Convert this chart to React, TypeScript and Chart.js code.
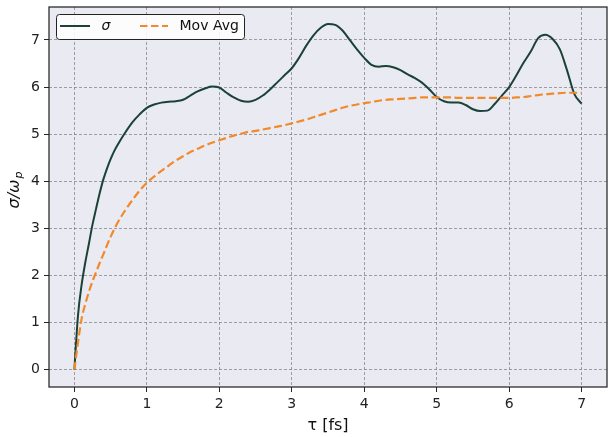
import React, { useEffect, useRef } from 'react';
import { Chart, registerables } from 'chart.js';
Chart.register(...registerables);

const tau = [0, 0.05, 0.1, 0.15, 0.2, 0.25, 0.3, 0.35, 0.4, 0.45, 0.5, 0.55, 0.6, 0.7, 0.8, 0.9, 1.0, 1.1, 1.2, 1.3, 1.4, 1.5, 1.6, 1.7, 1.8, 1.9, 2.0, 2.1, 2.2, 2.3, 2.4, 2.5, 2.6, 2.7, 2.8, 2.9, 3.0, 3.1, 3.2, 3.3, 3.4, 3.5, 3.6, 3.7, 3.8, 3.9, 4.0, 4.1, 4.2, 4.3, 4.4, 4.5, 4.6, 4.7, 4.8, 4.9, 5.0, 5.1, 5.2, 5.3, 5.4, 5.5, 5.6, 5.7, 5.8, 5.9, 6.0, 6.1, 6.2, 6.3, 6.4, 6.5, 6.6, 6.7, 6.8, 6.9, 7.0];

const sigma = [0, 1.15, 1.8, 2.27, 2.67, 3.08, 3.42, 3.75, 4.04, 4.27, 4.47, 4.64, 4.78, 5.03, 5.25, 5.42, 5.56, 5.63, 5.67, 5.69, 5.70, 5.73, 5.82, 5.91, 5.97, 6.01, 5.99, 5.88, 5.78, 5.71, 5.69, 5.73, 5.82, 5.95, 6.10, 6.25, 6.40, 6.62, 6.88, 7.10, 7.26, 7.34, 7.32, 7.20, 7.00, 6.80, 6.62, 6.47, 6.43, 6.45, 6.42, 6.36, 6.27, 6.19, 6.09, 5.95, 5.79, 5.70, 5.67, 5.67, 5.62, 5.53, 5.49, 5.50, 5.64, 5.82, 6.00, 6.25, 6.52, 6.76, 7.04, 7.11, 7.02, 6.80, 6.35, 5.85, 5.65];

const movAvg = [0, 0.58, 1.08, 1.39, 1.65, 1.88, 2.07, 2.27, 2.45, 2.64, 2.82, 2.98, 3.13, 3.38, 3.6, 3.8, 3.97, 4.1, 4.22, 4.33, 4.44, 4.53, 4.62, 4.69, 4.76, 4.82, 4.87, 4.92, 4.97, 5.01, 5.05, 5.07, 5.10, 5.13, 5.16, 5.19, 5.23, 5.27, 5.31, 5.36, 5.41, 5.46, 5.51, 5.56, 5.60, 5.63, 5.66, 5.68, 5.71, 5.73, 5.74, 5.75, 5.76, 5.77, 5.78, 5.78, 5.78, 5.78, 5.78, 5.77, 5.77, 5.77, 5.77, 5.77, 5.77, 5.77, 5.77, 5.78, 5.79, 5.81, 5.83, 5.85, 5.86, 5.87, 5.88, 5.88, 5.88];

const xTicks = [0, 1, 2, 3, 4, 5, 6, 7];
const yTicks = [0, 1, 2, 3, 4, 5, 6, 7];

const SIGMA_COLOR = '#1a4237';
const AVG_COLOR = '#f28a2c';
const FONT = '"DejaVu Sans", sans-serif';

const framePlugin = {
  id: 'mplFrame',
  beforeDraw(chart: any) {
    const { ctx, chartArea: a } = chart;
    ctx.save();
    ctx.fillStyle = '#ffffff';
    ctx.fillRect(0, 0, chart.width, chart.height);
    ctx.fillStyle = '#eaeaf2';
    ctx.fillRect(a.left, a.top, a.right - a.left, a.bottom - a.top);
    ctx.restore();
  },
  afterDraw(chart: any) {
    const { ctx, chartArea: a } = chart;
    ctx.save();
    ctx.strokeStyle = '#262626';
    ctx.lineWidth = 1.25;
    ctx.strokeRect(a.left, a.top, a.right - a.left, a.bottom - a.top);

    ctx.fillStyle = '#111';
    ctx.font = `16px ${FONT}`;
    ctx.textAlign = 'center';
    ctx.textBaseline = 'alphabetic';
    ctx.fillText('τ [fs]', (a.left + a.right) / 2, 430);

    ctx.save();
    ctx.translate(19, 190);
    ctx.rotate(-Math.PI / 2);
    const mainFont = `italic 16px ${FONT}`;
    const subFont = `italic 11px ${FONT}`;
    ctx.font = mainFont;
    const w1 = ctx.measureText('σ/ω').width;
    ctx.font = subFont;
    const w2 = ctx.measureText('p').width;
    const total = w1 + w2 + 1;
    ctx.textAlign = 'left';
    ctx.font = mainFont;
    ctx.fillText('σ/ω', -total / 2, 0);
    ctx.font = subFont;
    ctx.fillText('p', -total / 2 + w1 + 1, 3);
    ctx.restore();

    const lx = 56.5, ly = 14.5, lw = 188, lh = 25, r = 3;
    ctx.beginPath();
    ctx.moveTo(lx + r, ly);
    ctx.lineTo(lx + lw - r, ly);
    ctx.arcTo(lx + lw, ly, lx + lw, ly + r, r);
    ctx.lineTo(lx + lw, ly + lh - r);
    ctx.arcTo(lx + lw, ly + lh, lx + lw - r, ly + lh, r);
    ctx.lineTo(lx + r, ly + lh);
    ctx.arcTo(lx, ly + lh, lx, ly + lh - r, r);
    ctx.lineTo(lx, ly + r);
    ctx.arcTo(lx, ly, lx + r, ly, r);
    ctx.closePath();
    ctx.fillStyle = 'rgba(255,255,255,0.85)';
    ctx.fill();
    ctx.strokeStyle = '#222';
    ctx.lineWidth = 1;
    ctx.stroke();

    const cy = 26;
    ctx.lineWidth = 2;
    ctx.strokeStyle = SIGMA_COLOR;
    ctx.setLineDash([]);
    ctx.beginPath();
    ctx.moveTo(60, cy);
    ctx.lineTo(90, cy);
    ctx.stroke();

    ctx.lineWidth = 2.2;
    ctx.strokeStyle = AVG_COLOR;
    ctx.setLineDash([7.5, 3.5]);
    ctx.beginPath();
    ctx.moveTo(140, cy);
    ctx.lineTo(168, cy);
    ctx.stroke();
    ctx.setLineDash([]);

    ctx.fillStyle = '#111';
    ctx.textAlign = 'left';
    ctx.textBaseline = 'middle';
    ctx.font = `italic 14px ${FONT}`;
    ctx.fillText('σ', 101.5, cy);
    ctx.font = `14px ${FONT}`;
    ctx.fillText('Mov Avg', 179.5, cy);
    ctx.restore();
  },
};

export default function App() {
  const ref = useRef<HTMLCanvasElement | null>(null);

  useEffect(() => {
    document.body.style.margin = '0';
    const canvas = ref.current!;
    const sigmaData = tau.map((t, i) => ({ x: t, y: sigma[i] }));
    const avgData = tau.map((t, i) => ({ x: t, y: movAvg[i] }));

    const tickCommon = {
      color: '#222',
      font: { family: FONT, size: 14 },
      padding: 4,
    };
    const gridCommon = {
      color: 'rgba(120,120,120,0.85)',
      lineWidth: 0.8,
      drawTicks: true,
      tickLength: 5,
      tickColor: '#262626',
      tickWidth: 1,
      tickBorderDash: [],
    };

    const chart = new Chart(canvas, {
      type: 'line',
      data: {
        datasets: [
          {
            label: 'σ',
            data: sigmaData,
            borderColor: SIGMA_COLOR,
            borderWidth: 2,
            pointRadius: 0,
            cubicInterpolationMode: 'monotone',
            fill: false,
            order: 1,
          },
          {
            label: 'Mov Avg',
            data: avgData,
            borderColor: AVG_COLOR,
            borderWidth: 2.2,
            borderDash: [8, 3.5],
            pointRadius: 0,
            cubicInterpolationMode: 'monotone',
            fill: false,
            order: 0,
          },
        ],
      },
      plugins: [framePlugin],
      options: {
        responsive: false,
        animation: false,
        devicePixelRatio: 1,
        layout: { padding: { left: 0, top: 7, right: 7, bottom: 0 } },
        plugins: {
          legend: { display: false },
          tooltip: { enabled: false },
        },
        scales: {
          x: {
            type: 'linear',
            min: -0.35,
            max: 7.35,
            afterFit: (s: any) => { s.height = 50; s.paddingLeft = 0; s.paddingRight = 0; },
            afterBuildTicks: (s: any) => { s.ticks = xTicks.map((v) => ({ value: v })); },
            ticks: { ...tickCommon, stepSize: 1, includeBounds: false, maxRotation: 0 },
            grid: gridCommon,
            border: { display: false, dash: [3, 2] },
          },
          y: {
            type: 'linear',
            min: -0.367,
            max: 7.70,
            afterFit: (s: any) => { s.width = 49; s.paddingTop = 0; s.paddingBottom = 0; },
            afterBuildTicks: (s: any) => { s.ticks = yTicks.map((v) => ({ value: v })); },
            ticks: { ...tickCommon, stepSize: 1, includeBounds: false },
            grid: gridCommon,
            border: { display: false, dash: [3, 2] },
          },
        },
      },
    } as any);
    return () => chart.destroy();
  }, []);

  return (
    <div style={{ width: 614, height: 437 }}>
      <canvas ref={ref} width={614} height={437} style={{ display: 'block' }} />
    </div>
  );
}
